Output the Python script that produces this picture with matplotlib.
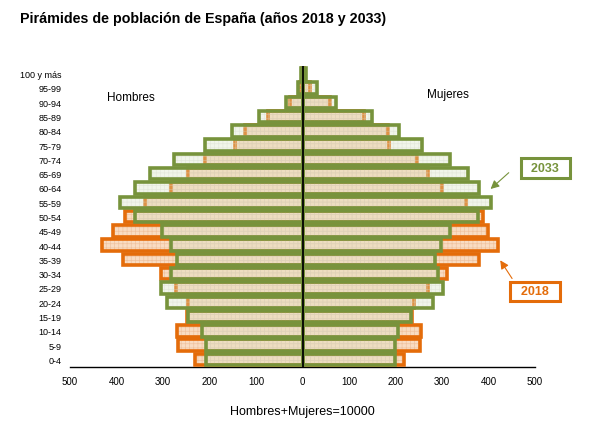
import matplotlib
matplotlib.use('Agg')
import matplotlib.pyplot as plt
import numpy as np

plt.rcParams['font.family'] = ['Liberation Sans', 'DejaVu Sans']
plt.rcParams['hatch.linewidth'] = 0.5

# datos (por 10000 habitantes)
age_groups = ['0-4', '5-9', '10-14', '15-19', '20-24', '25-29', '30-34',
              '35-39', '40-44', '45-49', '50-54', '55-59', '60-64', '65-69',
              '70-74', '75-79', '80-84', '85-89', '90-94', '95-99', '100 y más']
men_2018 = [232, 267, 269, 249, 247, 271, 304, 385, 432, 408, 382,
            339, 283, 247, 210, 146, 123, 74, 26, 6, 1]
men_2033 = [207, 208, 217, 246, 291, 304, 282, 269, 282, 303, 360,
            392, 360, 328, 276, 210, 151, 94, 36, 10, 3]
women_2018 = [219, 252, 255, 236, 239, 270, 310, 380, 421, 400, 389,
              351, 300, 270, 247, 185, 184, 132, 60, 17, 3]
women_2033 = [199, 199, 206, 233, 280, 303, 291, 285, 298, 318, 377,
              405, 379, 356, 317, 258, 208, 150, 71, 31, 8]
xticks = [-500, -400, -300, -200, -100, 0, 100, 200, 300, 400, 500]

orange = '#E46C0A'
green = '#77933C'

fig = plt.figure(figsize=(6.11, 4.27), dpi=100)
ax = fig.add_axes([0.1146, 0.1375, 0.761, 0.706])

y = np.arange(len(age_groups))
h = 0.8
lw = 2.6

for vals, sgn in [(men_2018, -1), (women_2018, 1)]:
    w = sgn * np.array(vals)
    ax.barh(y, w, height=h, color='#F9DCC2', linewidth=0, zorder=1)
    ax.barh(y, w, height=h, facecolor='none', edgecolor='#EFC3A0',
            linewidth=0, hatch='++++', zorder=2)
    ax.barh(y, w, height=h, facecolor='none', edgecolor=orange,
            linewidth=lw, joinstyle='miter', zorder=3)

for vals, sgn in [(men_2033, -1), (women_2033, 1)]:
    w = sgn * np.array(vals)
    ax.barh(y, w, height=h, color='#D4E1C0', alpha=0.32, linewidth=0, zorder=4)
    ax.barh(y, w, height=h, facecolor='none', edgecolor='#D5DACB',
            linewidth=0, hatch='++++', alpha=0.45, zorder=5)
    ax.barh(y, w, height=h, facecolor='none', edgecolor=green,
            linewidth=lw, joinstyle='miter', zorder=6)

ax.axvline(0, color='black', lw=1.3, zorder=7)

ax.set_xlim(-500, 500)
ax.set_ylim(-0.55, 20.55)
ax.set_xticks(xticks)
ax.set_xticklabels([str(abs(t)) for t in xticks], fontsize=7)
ax.set_yticks(y)
ax.set_yticklabels(age_groups, fontsize=6.5)
ax.tick_params(length=0, pad=6)
for s in ['top', 'right', 'left']:
    ax.spines[s].set_visible(False)
ax.spines['bottom'].set_linewidth(1)
ax.set_xlabel('Hombres+Mujeres=10000', fontsize=9, labelpad=14)

ax.text(-420, 18.35, 'Hombres', fontsize=8.5, ha='left', va='center')
ax.text(312, 18.6, 'Mujeres', fontsize=8.5, ha='center', va='center')

# etiquetas de año con flecha
ax.text(522, 13.4, '  2033  ', fontsize=9, fontweight='bold', color=green,
        ha='center', va='center', clip_on=False,
        bbox=dict(boxstyle='square,pad=0.3', fc='white', ec=green, lw=2.2))
ax.annotate('', xy=(400, 11.8), xytext=(448, 13.2), annotation_clip=False,
            arrowprops=dict(arrowstyle='-|>,head_length=0.5,head_width=0.25',
                            color=green, lw=0.8))
ax.text(500, 4.76, '  2018  ', fontsize=9, fontweight='bold', color=orange,
        ha='center', va='center', clip_on=False,
        bbox=dict(boxstyle='square,pad=0.3', fc='white', ec=orange, lw=2.2))
ax.annotate('', xy=(422, 7.1), xytext=(454, 5.5), annotation_clip=False,
            arrowprops=dict(arrowstyle='-|>,head_length=0.5,head_width=0.25',
                            color=orange, lw=0.8))

fig.text(0.033, 0.955, 'Pirámides de población de España (años 2018 y 2033)',
         fontsize=10.3, fontweight='bold', ha='left', va='center')

fig.savefig('out.png', dpi=100)
